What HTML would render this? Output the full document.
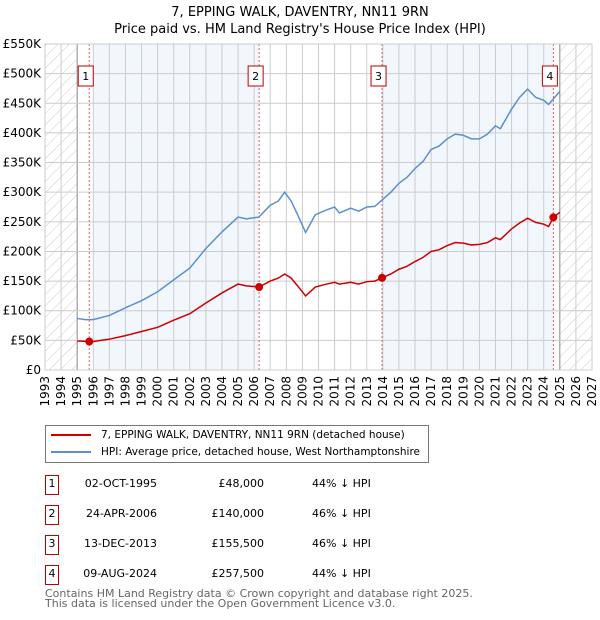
<!DOCTYPE html>
<html><head><meta charset="utf-8">
<style>
body{margin:0;background:#fff;font-family:"DejaVu Sans","Liberation Sans",sans-serif;}
#wrap{position:relative;width:600px;height:620px;overflow:hidden;}
svg text{font-family:"DejaVu Sans","Liberation Sans",sans-serif;}
</style></head>
<body><div id="wrap">
<svg id="chart" width="600" height="620">
<defs><pattern id="hatch" patternUnits="userSpaceOnUse" width="8" height="8" patternTransform="rotate(45)"><line x1="0" y1="0" x2="0" y2="8" stroke="#ccc" stroke-width="1"/></pattern></defs>
<text x="300" y="16" text-anchor="middle" font-size="13">7, EPPING WALK, DAVENTRY, NN11 9RN</text>
<text x="300" y="33" text-anchor="middle" font-size="13">Price paid vs. HM Land Registry's House Price Index (HPI)</text>
</svg>
<div style="position:absolute;left:45px;top:425px;width:382px;height:36px;border:1px solid #777;font-size:10.5px;">
 <div style="position:absolute;left:5px;top:3px;white-space:nowrap"><span style="display:inline-block;width:40px;height:2px;background:#cc0000;vertical-align:middle;margin-right:10px"></span>7, EPPING WALK, DAVENTRY, NN11 9RN (detached house)</div>
 <div style="position:absolute;left:5px;top:20px;white-space:nowrap"><span style="display:inline-block;width:40px;height:2px;background:#5b8fd0;vertical-align:middle;margin-right:10px"></span>HPI: Average price, detached house, West Northamptonshire</div>
</div>
<div id="table" style="font-size:11px;"></div>
<div style="position:absolute;left:45px;top:589px;font-size:11px;color:#666;line-height:10px;white-space:nowrap">Contains HM Land Registry data © Crown copyright and database right 2025.<br>This data is licensed under the Open Government Licence v3.0.</div>
</div>
<script>
const hpiYears=[1995,1995.5,1996,1997,1998,1999,2000,2001,2002,2003,2004,2005,2005.5,2006.3,2007,2007.5,2007.9,2008.3,2008.7,2009.2,2009.8,2010.5,2011,2011.3,2012,2012.5,2013,2013.5,2014,2014.5,2015,2015.5,2016,2016.5,2017,2017.5,2018,2018.5,2019,2019.5,2020,2020.5,2021,2021.3,2022,2022.5,2023,2023.5,2024,2024.3,2025];
const hpiValues=[87,85,85,92,105,117,132,152,172,205,233,258,255,258,278,285,300,285,262,232,262,270,275,265,273,268,275,276,288,300,315,325,340,352,372,378,390,398,396,390,390,398,412,407,440,460,474,460,455,448,470];
const propYears=[1995,1995.75,1996,1997,1998,1999,2000,2001,2002,2003,2004,2005,2005.5,2006.31,2007,2007.5,2007.9,2008.3,2008.7,2009.2,2009.8,2010.5,2011,2011.3,2012,2012.5,2013,2013.5,2013.95,2014.5,2015,2015.5,2016,2016.5,2017,2017.5,2018,2018.5,2019,2019.5,2020,2020.5,2021,2021.3,2022,2022.5,2023,2023.5,2024,2024.3,2024.6,2025];
const propValues=[49,48,48,52,58,65,72,84,95,113,130,145,142,140,150,155,162,155,142,125,140,145,148,145,148,145,149,150,155.5,162,170,175,183,190,200,203,210,215,214,211,212,215,223,220,238,248,256,249,246,242,257.5,266];
const saleYears=[1995.75,2006.31,2013.95,2024.6];
const saleValues=[48,140,155.5,257.5];
const saleDates=["02-OCT-1995","24-APR-2006","13-DEC-2013","09-AUG-2024"];
const salePrices=["£48,000","£140,000","£155,500","£257,500"];
const salePct=["44% ↓ HPI","46% ↓ HPI","46% ↓ HPI","44% ↓ HPI"];
const yTicks=[0,50,100,150,200,250,300,350,400,450,500,550];
const yTickLabels=["£0","£50K","£100K","£150K","£200K","£250K","£300K","£350K","£400K","£450K","£500K","£550K"];
const xTicks=[];for(let y=1993;y<=2027;y++)xTicks.push(y);

const L=45,R=592,T=44,B=370;
const X=y=>L+(y-1993)*(R-L)/34;
const Y=v=>B-v*(B-T)/550;
const svg=document.getElementById('chart');
const NS='http://www.w3.org/2000/svg';
function mk(tag,attrs,parent){const e=document.createElementNS(NS,tag);for(const k in attrs)e.setAttribute(k,attrs[k]);(parent||svg).appendChild(e);return e;}

let e;
e=mk('rect',{x:X(saleYears[0])+4,y:T,width:X(saleYears[1])-X(saleYears[0])-4,height:B-T,fill:'#f2f6fd'});


e=mk('rect',{x:X(saleYears[2]),y:T,width:X(saleYears[3])-X(saleYears[2]),height:B-T,fill:'#f2f6fd'});


e=mk('rect',{x:L,y:T,width:X(1995)-L,height:B-T,fill:'url(#hatch)'});


e=mk('rect',{x:X(2025),y:T,width:R-X(2025),height:B-T,fill:'url(#hatch)'});



xTicks.forEach(yr=>{
  const g=mk('line',{x1:X(yr),x2:X(yr),y1:T,y2:B,stroke:(yr==1995||yr==2025)?'#888':'#ccc','stroke-width':1});
  
  
  const t=mk('text',{x:0,y:0,'font-size':12,'text-anchor':'end',transform:`translate(${X(yr)+4},${B+6}) rotate(-90)`});
  t.textContent=yr;
  
  
});
yTicks.forEach((v,i)=>{
  const g=mk('line',{x1:L,x2:R,y1:Y(v),y2:Y(v),stroke:'#ccc','stroke-width':1});
  
  
  const t=mk('text',{x:L-4,y:Y(v)+4,'font-size':12,'text-anchor':'end'});
  t.textContent=yTickLabels[i];
  
  
});
saleYears.forEach((yr,i)=>{
  const l=mk('line',{x1:X(yr),x2:X(yr),y1:T,y2:B,stroke:'#e06060','stroke-width':1,'stroke-dasharray':'2,2'});
  
  
  const r=mk('rect',{x:X(yr)-11,y:66,width:15,height:20,fill:'#fff',stroke:'#b00','stroke-width':1});
  
  
  const t=mk('text',{x:X(yr)-3.5,y:80,'font-size':11,'text-anchor':'middle'});
  t.textContent=i+1;
  
  
});
e=mk('polyline',{points:hpiYears.map((y,i)=>X(y)+','+Y(hpiValues[i])).join(' '),fill:'none',stroke:'#5b8fd0','stroke-width':1.5});


e=mk('polyline',{points:propYears.map((y,i)=>X(y)+','+Y(propValues[i])).join(' '),fill:'none',stroke:'#cc0000','stroke-width':1.5});


saleYears.forEach((yr,i)=>{
  const c=mk('circle',{cx:X(yr),cy:Y(saleValues[i]),r:4,fill:'#cc0000'});
  
  
});
e=mk('rect',{x:L,y:T,width:R-L,height:B-T,fill:'none',stroke:'#ccc'});



const tbl=document.getElementById('table');
const rowY=[475,505,535,565];
saleDates.forEach((d,i)=>{
  const row=document.createElement('div');
  
  
  row.style.cssText=`position:absolute;left:0;top:${rowY[i]}px;width:600px;height:22px;`;
  row.innerHTML=`<div style="position:absolute;left:45px;top:0;width:12px;height:18px;border:1px solid #b00;text-align:center;line-height:16px">${i+1}</div>`+
  `<div style="position:absolute;right:443px;top:2px">${d}</div>`+
  `<div style="position:absolute;right:336px;top:2px">${salePrices[i]}</div>`+
  `<div style="position:absolute;left:312px;top:2px">${salePct[i]}</div>`;
  tbl.appendChild(row);
});
</script>
</body></html>
